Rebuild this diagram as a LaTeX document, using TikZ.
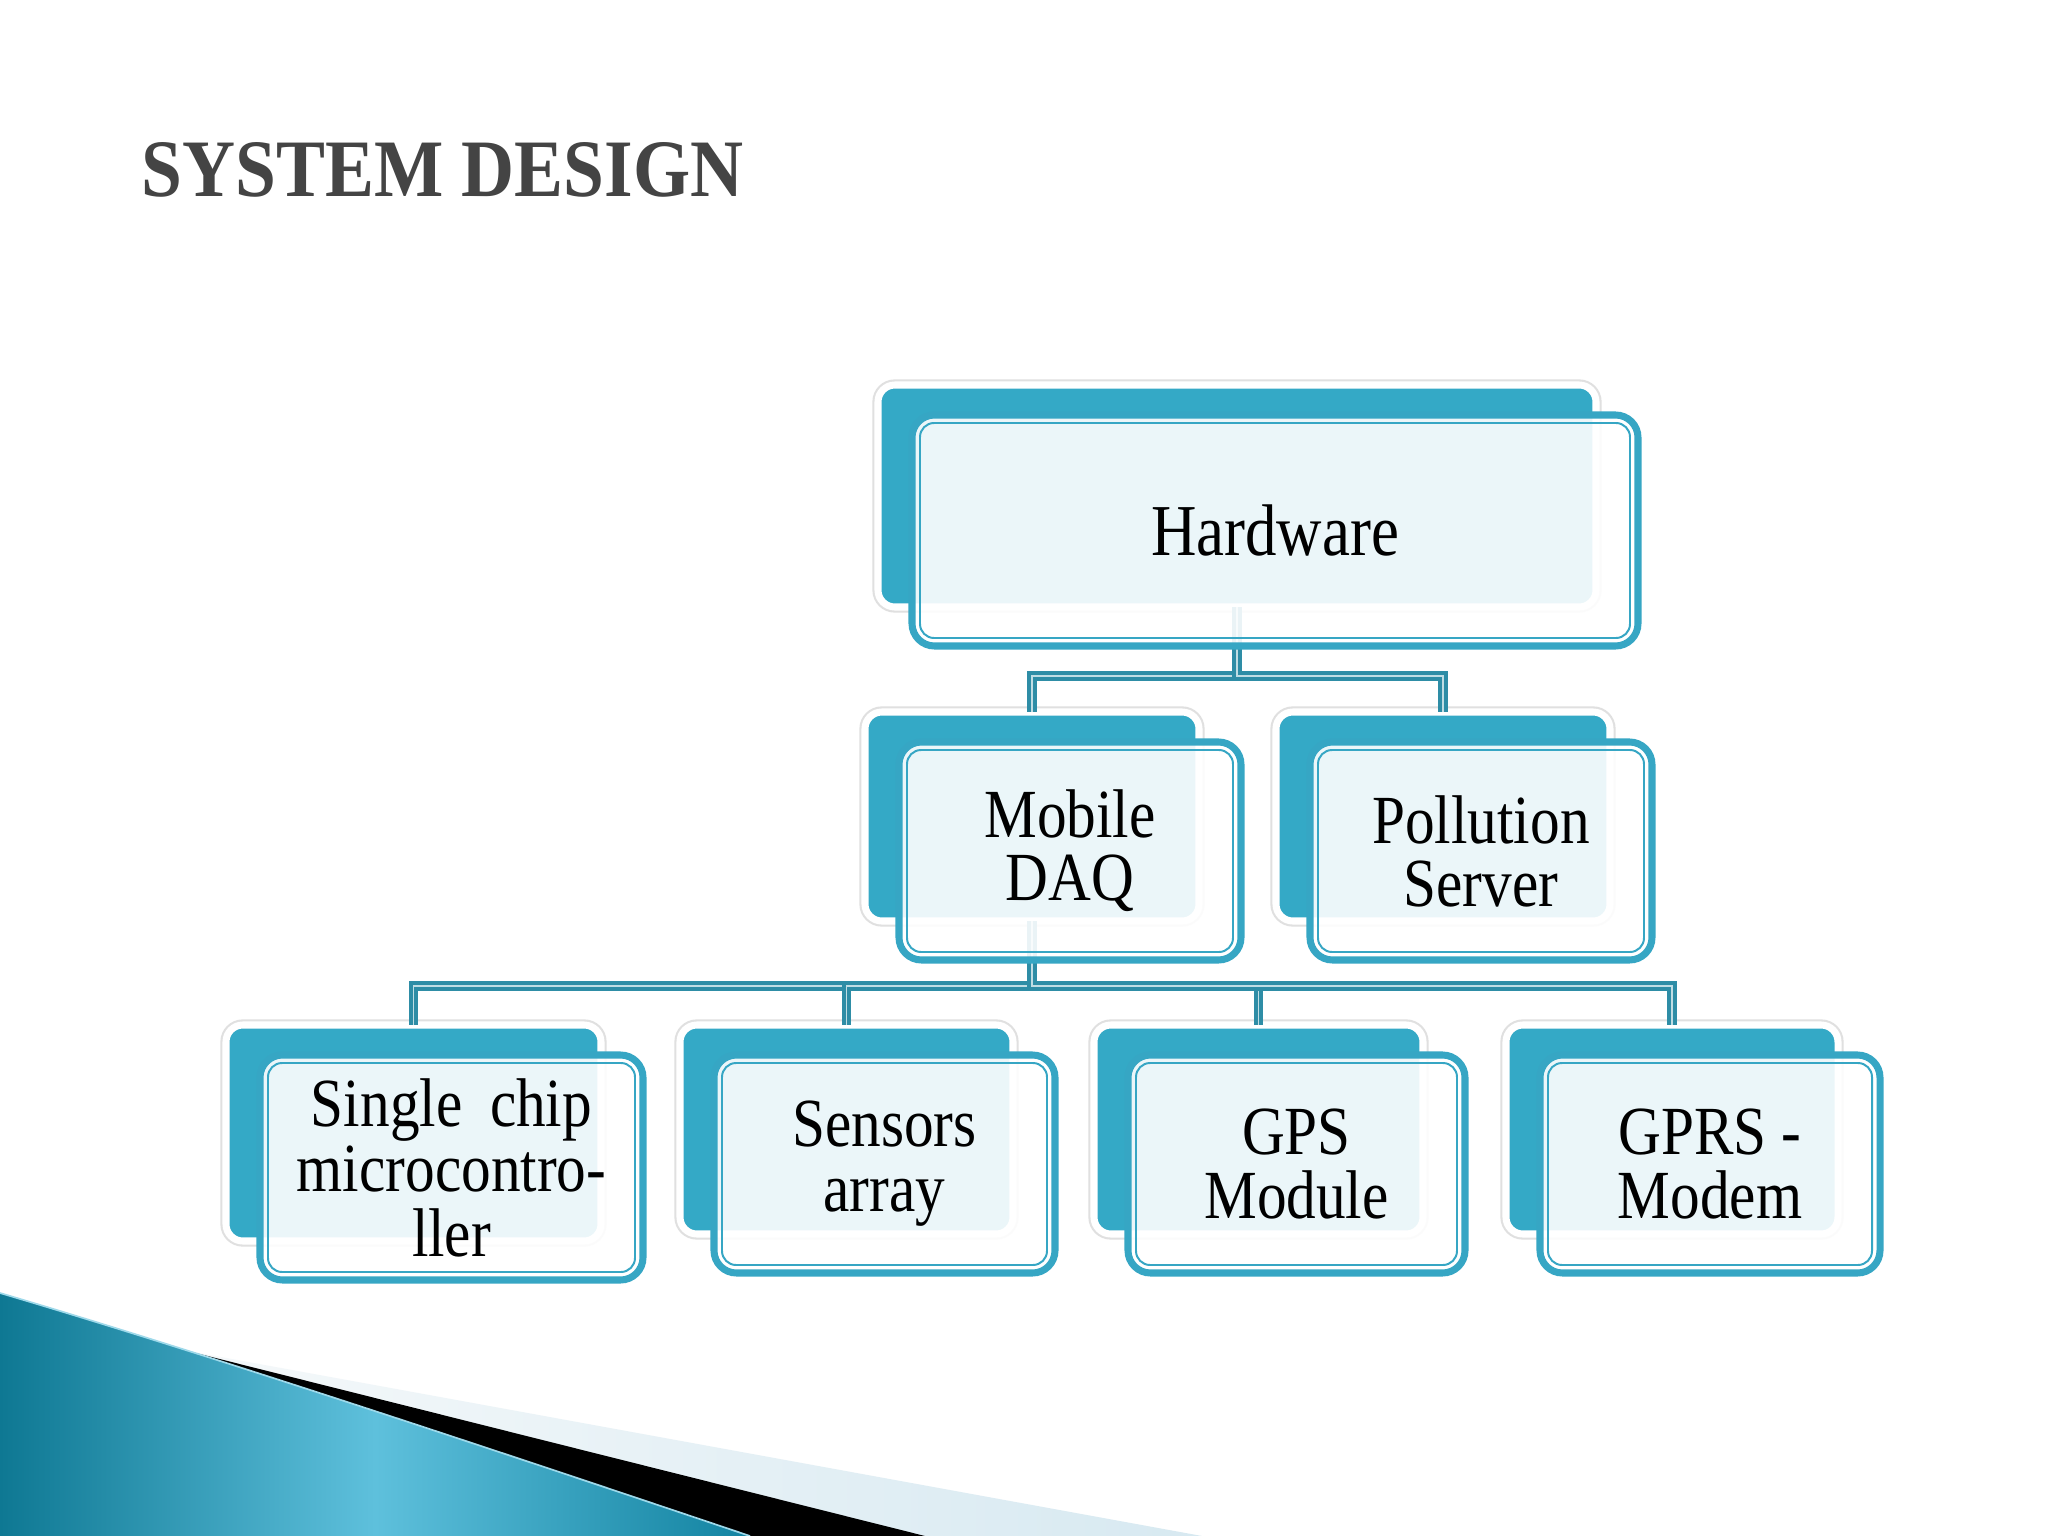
\documentclass[tikz,border=0pt]{standalone}
\usepackage{fontspec}
\setmainfont{Liberation Serif}
\newfontfamily\boxfont[FakeStretch=0.86]{Liberation Serif}
\newfontfamily\ttlfont[FakeStretch=0.9]{Liberation Serif}
\usetikzlibrary{calc}
\definecolor{bteal}{HTML}{34A9C6}
\definecolor{fteal}{HTML}{36A6C4}
\definecolor{cteal}{HTML}{2E8DA6}
\definecolor{ttlgray}{HTML}{444444}
\definecolor{swA}{HTML}{0E7893}
\definecolor{swB}{HTML}{5EC0DC}
\definecolor{swC}{HTML}{1283A1}
\definecolor{swLight}{HTML}{D7E9F1}
\newcommand\pxu{0.0125cm}
\newcommand\inframe[1]{\draw[inframe] ([shift={(8,8)}]#1.south west) rectangle ([shift={(-8,-8)}]#1.north east);}
\begin{document}
\begin{tikzpicture}[x=0.0125cm, y=0.0125cm,
  backbox/.style={rectangle, rounded corners=6pt, fill=bteal, draw=white, line width=2.5pt,
    preaction={draw=black!12, line width=4pt}, inner sep=0pt, outer sep=0pt},
  frontbox/.style={rectangle, rounded corners=8pt, fill=white, fill opacity=0.9, text opacity=1,
    draw=fteal, draw opacity=1, line width=2.5pt, inner sep=0pt, outer sep=0pt, align=center, text=black},
  inframe/.style={draw=fteal, line width=0.7pt, rounded corners=5pt},
  conn/.style={draw=cteal, line width=1.3pt, double=cteal!30!white, double distance=0.7pt},
  hwfont/.style={font={\boxfont\fontsize{26}{28}\selectfont}},
  midfont/.style={font={\boxfont\fontsize{24.5}{22.4}\selectfont}},
  lowfont/.style={font={\boxfont\fontsize{24.5}{23.1}\selectfont}},
]
\useasboundingbox (0,0) rectangle (2048,-1536);
\fill[white] (0,0) rectangle (2048,-1536);

% bottom-left swoosh
\shade[left color=swLight!80!black!5!white, right color=swLight] (0,-1293) -- (166,-1347) -- (1202,-1536) -- (0,-1536) -- cycle;
\fill[black] (0,-1293) -- (116,-1333) -- (925,-1536) -- (0,-1536) -- cycle;
\shade[left color=swA, right color=swC, middle color=swB]
  (0,-1293) .. controls (200,-1352) and (480,-1445) .. (750,-1536) -- (0,-1536) -- cycle;
\draw[swB!60!white, line width=0.6pt] (0,-1293) .. controls (200,-1352) and (480,-1445) .. (750,-1536);

% title
\node[anchor=base west, inner sep=0pt, text=ttlgray, font={\ttlfont\bfseries\fontsize{29}{32}\selectfont}] (title) at (141,-196) {SYSTEM DESIGN};

% back boxes
\node[backbox, minimum width=718*\pxu, minimum height=222*\pxu] (hwb) at (1237,-496) {};
\node[backbox, minimum width=334*\pxu, minimum height=209*\pxu] (mobb) at (1032,-816.5) {};
\node[backbox, minimum width=334*\pxu, minimum height=209*\pxu] (polb) at (1443,-816.5) {};
\node[backbox, minimum width=375*\pxu, minimum height=216*\pxu] (mcub) at (413.5,-1133) {};
\node[backbox, minimum width=333*\pxu, minimum height=209*\pxu] (senb) at (846.5,-1129.5) {};
\node[backbox, minimum width=329*\pxu, minimum height=209*\pxu] (gpsb) at (1258.5,-1129.5) {};
\node[backbox, minimum width=332*\pxu, minimum height=209*\pxu] (gprb) at (1672,-1129.5) {};

% connectors
\draw[conn] (hwb.south) -- ++(0,-69) -| (mobb.north);
\draw[conn] (hwb.south) -- ++(0,-69) -| (polb.north);
\draw[conn] (mobb.south) -- ++(0,-65) -| (mcub.north);
\draw[conn] (mobb.south) -- ++(0,-65) -| (senb.north);
\draw[conn] (mobb.south) -- ++(0,-65) -| (gpsb.north);
\draw[conn] (mobb.south) -- ++(0,-65) -| (gprb.north);

% front boxes
\node[frontbox, hwfont, minimum width=726*\pxu, minimum height=231*\pxu] (hw) at (1275,-530.5) {Hardware};
\inframe{hw}
\node[frontbox, midfont, minimum width=342*\pxu, minimum height=218*\pxu] (mob) at (1070,-851) {Mobile\\DAQ};
\inframe{mob}
\node[frontbox, midfont, minimum width=342*\pxu, minimum height=218*\pxu] (pol) at (1481,-851) {Pollution\\Server};
\inframe{pol}
\node[frontbox, lowfont, minimum width=383*\pxu, minimum height=225*\pxu] (mcu) at (451.5,-1167.5) {Single\hspace{0.4em}chip\\microcontro-\\ller};
\inframe{mcu}
\node[frontbox, lowfont, minimum width=341*\pxu, minimum height=218*\pxu] (sen) at (884.5,-1164) {Sensors\\array};
\inframe{sen}
\node[frontbox, lowfont, minimum width=337*\pxu, minimum height=218*\pxu] (gps) at (1296.5,-1164) {GPS\\Module};
\inframe{gps}
\node[frontbox, lowfont, minimum width=340*\pxu, minimum height=218*\pxu] (gpr) at (1710,-1164) {GPRS -\\Modem};
\inframe{gpr}
\end{tikzpicture}
\end{document}
